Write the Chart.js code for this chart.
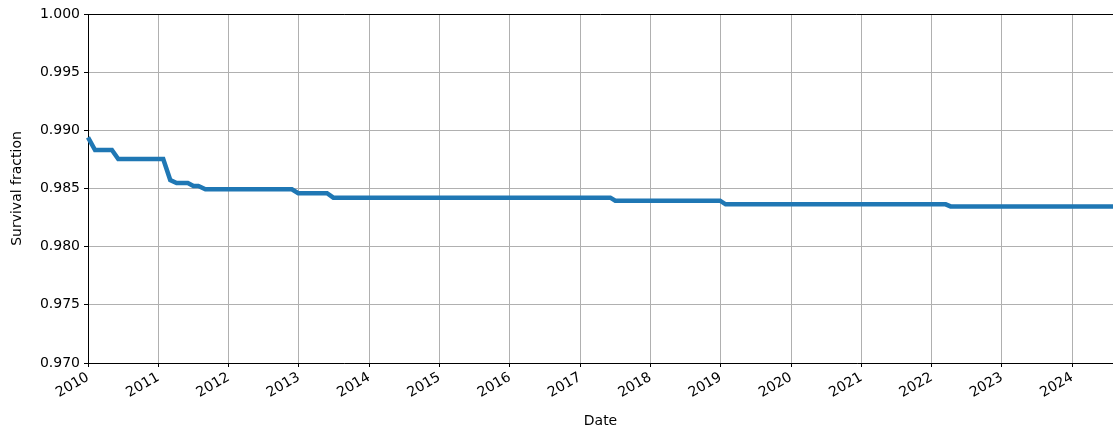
<!DOCTYPE html>
<html>
<head>
<meta charset="utf-8">
<script src="https://cdn.jsdelivr.net/npm/chart.js@4/dist/chart.umd.min.js"></script>
<style>
  html, body { margin: 0; padding: 0; background: #fff; }
  #wrap { width: 1113px; height: 432px; position: relative; }
</style>
</head>
<body>
<div id="wrap"><canvas id="survChart"></canvas></div>
<script>
// 日期（小数年）与存活比例
const dates = [
  2010.00, 2010.10, 2010.34, 2010.43, 2011.07, 2011.17, 2011.26, 2011.42,
  2011.50, 2011.57, 2011.67, 2012.90, 2012.99, 2013.40, 2013.49, 2017.43,
  2017.50, 2018.99, 2019.07, 2022.20, 2022.27, 2024.60
]
const survival = [
  0.98940, 0.98831, 0.98831, 0.98754, 0.98754, 0.98573, 0.98547, 0.98547,
  0.98521, 0.98521, 0.98493, 0.98493, 0.98459, 0.98459, 0.98421, 0.98421,
  0.98395, 0.98395, 0.98364, 0.98364, 0.98346, 0.98346
]
const xMin = 2010
const xMax = 2024.58
const yMin = 0.970
const yMax = 1.000

const font = { family: 'DejaVu Sans', size: 14 }

// 上边框（matplotlib 风格）
const frame = {
  id: 'frame',
  afterDraw(chart) {
    const { ctx, chartArea } = chart
    ctx.save()
    ctx.strokeStyle = '#000'
    ctx.lineWidth = 1
    ctx.beginPath()
    ctx.moveTo(chartArea.left, chartArea.top + 0.5)
    ctx.lineTo(chartArea.right, chartArea.top + 0.5)
    ctx.stroke()
    ctx.restore()
  }
}

new Chart(document.getElementById('survChart'), {
  type: 'line',
  data: {
    datasets: [{
      data: dates.map((d, i) => ({ x: d, y: survival[i] })),
      borderColor: '#1f77b4',
      borderWidth: 4.5,
      pointRadius: 0,
      tension: 0,
      clip: 2
    }]
  },
  options: {
    responsive: true,
    maintainAspectRatio: false,
    animation: false,
    layout: { padding: { top: 14, right: 0, left: 0, bottom: 0 } },
    plugins: {
      legend: { display: false },
      tooltip: { enabled: false }
    },
    scales: {
      x: {
        type: 'linear',
        min: xMin,
        max: xMax,
        afterFit: s => { s.height = 69 },
        afterBuildTicks: s => {
          s.ticks = []
          for (let y = 2010; y <= 2024; y++) s.ticks.push({ value: y })
        },
        ticks: {
          callback: v => String(v),
          color: '#000',
          font: font,
          minRotation: 30,
          maxRotation: 30,
          autoSkip: false,
          padding: 2
        },
        grid: { color: '#b0b0b0', tickColor: '#000', tickLength: 4, lineWidth: 1 },
        border: { color: '#000', width: 1 },
        title: { display: true, text: 'Date', color: '#000', font: font, padding: { top: 0, bottom: 2 } }
      },
      y: {
        min: yMin,
        max: yMax,
        afterFit: s => { s.width = 88 },
        ticks: {
          stepSize: 0.005,
          callback: v => v.toFixed(3),
          color: '#000',
          font: font,
          padding: 4
        },
        grid: { color: '#b0b0b0', tickColor: '#000', tickLength: 4, lineWidth: 1 },
        border: { color: '#000', width: 1 },
        title: { display: true, text: 'Survival fraction', color: '#000', font: font, padding: { top: 9, bottom: 2 } }
      }
    }
  },
  plugins: [frame]
})
</script>
</body>
</html>
